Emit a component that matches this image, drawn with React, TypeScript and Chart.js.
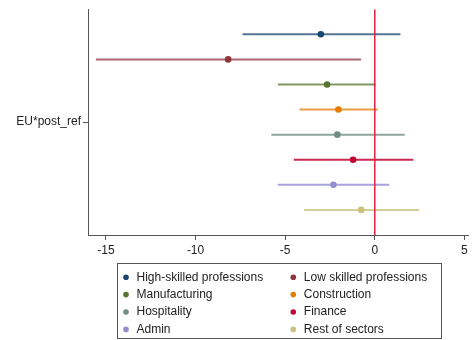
import React, { useEffect, useRef } from "react";
import { Chart, registerables } from "chart.js";

Chart.register(...registerables);

// Coefficient of EU*post_ref by sector, with 95% confidence bounds
const sectors = [
  "High-skilled professions",
  "Low skilled professions",
  "Manufacturing",
  "Construction",
  "Hospitality",
  "Finance",
  "Admin",
  "Rest of sectors",
];
const estimates = [-3.01, -8.18, -2.66, -2.03, -2.09, -1.21, -2.31, -0.76];
const ciLow = [-7.38, -15.56, -5.41, -4.2, -5.77, -4.52, -5.41, -3.94];
const ciHigh = [1.43, -0.76, 0.05, 0.17, 1.67, 2.15, 0.82, 2.47];
const xTicks = [-15, -10, -5, 0, 5];
const yLabel = "EU*post_ref";
const referenceValue = 0;

const pointColors = [
  "#1a476f",
  "#90353b",
  "#55752f",
  "#e37e00",
  "#6e8e84",
  "#c10534",
  "#938dd2",
  "#cac27e",
];
const ciColors = [
  "rgba(26,71,111,0.75)",
  "rgba(144,53,59,0.75)",
  "rgba(85,117,47,0.75)",
  "rgba(227,126,0,0.75)",
  "rgba(110,142,132,0.8)",
  "rgba(193,5,52,0.85)",
  "rgba(147,141,210,0.8)",
  "rgba(202,194,126,0.8)",
];

const FONT = "'Liberation Sans', Arial, sans-serif";

const boxedLegend = {
  id: "boxedLegend",
  afterDraw(chart: any) {
    const ctx = chart.ctx;
    const left = 117.5;
    const top = 263.5;
    const width = 324;
    const height = 75;
    ctx.save();
    ctx.strokeStyle = "#555";
    ctx.lineWidth = 1;
    ctx.strokeRect(left, top, width, height);
    ctx.font = `12px ${FONT}`;
    ctx.textBaseline = "middle";
    ctx.textAlign = "left";
    sectors.forEach((name, i) => {
      const col = i % 2;
      const row = Math.floor(i / 2);
      const y = 277.2 + row * 17.4;
      const mx = col === 0 ? 126 : 293.3;
      ctx.fillStyle = pointColors[i];
      ctx.beginPath();
      ctx.arc(mx, y, 2.8, 0, Math.PI * 2);
      ctx.fill();
      ctx.fillStyle = "#222";
      ctx.fillText(name, mx + 10.5, y);
    });
    ctx.restore();
  },
};

export default function App() {
  const canvasRef = useRef<HTMLCanvasElement | null>(null);

  useEffect(() => {
    document.body.style.margin = "0";
    const canvas = canvasRef.current;
    if (!canvas) return;

    const rows = sectors.map((_, i) => i + 1);
    const datasets: any[] = [];

    datasets.push({
      type: "line",
      label: "ref",
      data: [
        { x: referenceValue, y: 0 },
        { x: referenceValue, y: sectors.length + 1 },
      ],
      borderColor: "#e4203f",
      borderWidth: 1.5,
      pointRadius: 0,
      showLine: true,
    });

    sectors.forEach((name, i) => {
      datasets.push({
        type: "line",
        label: name + " CI",
        data: [
          { x: ciLow[i], y: rows[i] },
          { x: ciHigh[i], y: rows[i] },
        ],
        borderColor: ciColors[i],
        borderWidth: 2,
        pointRadius: 0,
        showLine: true,
      });
    });

    sectors.forEach((name, i) => {
      datasets.push({
        type: "scatter",
        label: name,
        data: [{ x: estimates[i], y: rows[i] }],
        backgroundColor: pointColors[i],
        borderColor: pointColors[i],
        pointRadius: 3.3,
        borderWidth: 0,
      });
    });

    const chart = new Chart(canvas, {
      type: "scatter",
      data: { datasets },
      plugins: [boxedLegend],
      options: {
        responsive: false,
        animation: false,
        layout: { padding: { top: 8, bottom: 80, right: 0, left: 0 } },
        plugins: {
          legend: { display: false },
          tooltip: { enabled: false },
        },
        scales: {
          x: {
            type: "linear",
            min: -16,
            max: 5.2,
            afterBuildTicks: (scale: any) => {
              scale.ticks = xTicks.map((v) => ({ value: v }));
            },
            afterFit: (scale: any) => {
              scale.height = 25;
            },
            ticks: {
              color: "#222",
              font: { family: FONT, size: 12 },
              padding: 3,
              maxRotation: 0,
              callback: (v: any) => String(v),
            },
            grid: {
              drawOnChartArea: false,
              drawTicks: true,
              tickLength: 5,
              color: "#555",
            },
            border: { display: true, color: "#555", width: 1 },
          },
          y: {
            type: "linear",
            min: 0,
            max: sectors.length + 1,
            reverse: true,
            afterBuildTicks: (scale: any) => {
              scale.ticks = [{ value: (sectors.length + 1) / 2 }];
            },
            afterFit: (scale: any) => {
              scale.width = 88;
            },
            ticks: {
              color: "#222",
              font: { family: FONT, size: 12 },
              padding: 2,
              callback: () => yLabel,
            },
            grid: {
              drawOnChartArea: false,
              drawTicks: true,
              tickLength: 5,
              color: "#555",
            },
            border: { display: true, color: "#555", width: 1 },
          },
        },
      },
    });

    return () => chart.destroy();
  }, []);

  return (
    <div style={{ width: 472, height: 340, background: "#fff" }}>
      <canvas ref={canvasRef} width={472} height={340} />
    </div>
  );
}
